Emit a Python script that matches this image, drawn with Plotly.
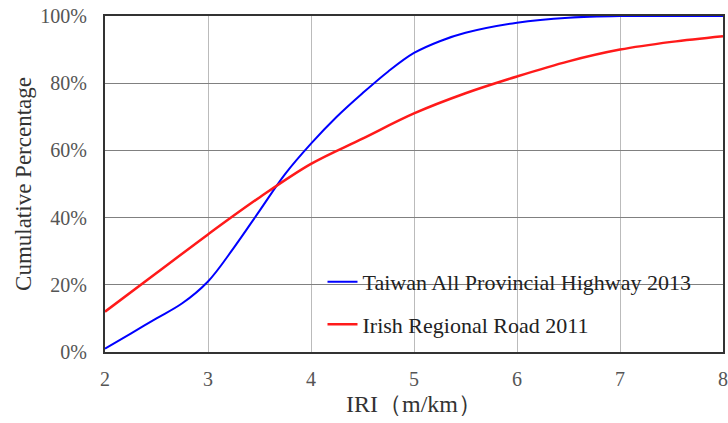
import plotly.graph_objects as go

iri_taiwan = [2.0, 2.25, 2.5, 2.75, 3.0, 3.25, 3.5, 3.75, 4.0, 4.25, 4.5, 4.75, 5.0, 5.25, 5.5, 6.0, 6.5, 7.0, 7.5, 8.0]
pct_taiwan = [1, 5.5, 10, 14.5, 21, 31, 42, 53, 62, 70, 77, 83.5, 89, 92.5, 95, 98, 99.5, 100, 100, 100]

iri_irish = [2.0, 2.5, 3.0, 3.5, 4.0, 4.5, 5.0, 5.5, 6.0, 6.5, 7.0, 7.5, 8.0]
pct_irish = [12, 23.5, 35, 46, 56, 63.5, 71, 77, 82, 86.5, 90, 92.3, 94]

name_taiwan = "Taiwan All Provincial Highway 2013"
name_irish = "Irish Regional Road 2011"

x_ticks = [2, 3, 4, 5, 6, 7, 8]
y_ticks = [0, 20, 40, 60, 80, 100]
y_tick_text = ["0%", "20%", "40%", "60%", "80%", "100%"]

W, H = 728, 423
L, R, T, B = 105, 5, 16, 71
PW, PH = W - L - R, H - T - B

fig = go.Figure()
fig.add_trace(go.Scatter(x=iri_taiwan, y=pct_taiwan, mode="lines", name=name_taiwan,
                         line=dict(color="#0000ff", width=2, shape="spline", smoothing=1.0),
                         legendgroup="a"))
fig.add_trace(go.Scatter(x=iri_irish, y=pct_irish, mode="lines", name=name_irish,
                         line=dict(color="#ff1a1a", width=2.5, shape="spline", smoothing=1.0),
                         legendgroup="b"))

# white panel behind the legend (masks gridlines, stays under the curves)
fig.add_shape(type="rect", xref="paper", yref="paper",
              x0=195 / PW, x1=613 / PW,
              y0=9 / PH, y1=90 / PH,
              fillcolor="white", line=dict(width=0), layer="between")

font_fam = "Liberation Serif, Times New Roman, serif"
fig.update_layout(
    width=W, height=H,
    margin=dict(l=L, r=R, t=T, b=B, autoexpand=False),
    paper_bgcolor="white", plot_bgcolor="white",
    font=dict(family=font_fam, size=17, color="#333333"),
    showlegend=True,
    legend=dict(x=217.5 / PW, y=0.271, xanchor="left", yanchor="top",
                bgcolor="rgba(0,0,0,0)", borderwidth=0,
                font=dict(family=font_fam, size=22, color="#222222"),
                tracegroupgap=11),
    xaxis=dict(range=[2, 8], tickvals=x_ticks, showgrid=True, gridcolor="#bbbbbb", gridwidth=1,
               showline=True, linecolor="#333333", linewidth=2, mirror=True,
               ticks="", ticklabelstandoff=8, automargin=False, ticklabeloverflow="allow",
               tickfont=dict(family=font_fam, size=20, color="#555555"),
               title=dict(text="IRI（m/km）", font=dict(family=font_fam, size=24, color="#333333"), standoff=6),
               zeroline=False),
    yaxis=dict(range=[0, 100], tickvals=y_ticks, ticktext=y_tick_text, showgrid=True, gridcolor="#808080", gridwidth=1,
               showline=True, linecolor="#333333", linewidth=2, mirror=True,
               ticks="", ticklabelstandoff=12, automargin=False, ticklabeloverflow="allow",
               tickfont=dict(family=font_fam, size=20, color="#555555"),
               title=dict(text="Cumulative Percentage", font=dict(family=font_fam, size=23, color="#333333"), standoff=2),
               zeroline=False),
)

fig.write_html("out.html",
               config={"displayModeBar": False},
               post_script="document.body.style.margin='0';document.body.style.overflow='hidden';")
